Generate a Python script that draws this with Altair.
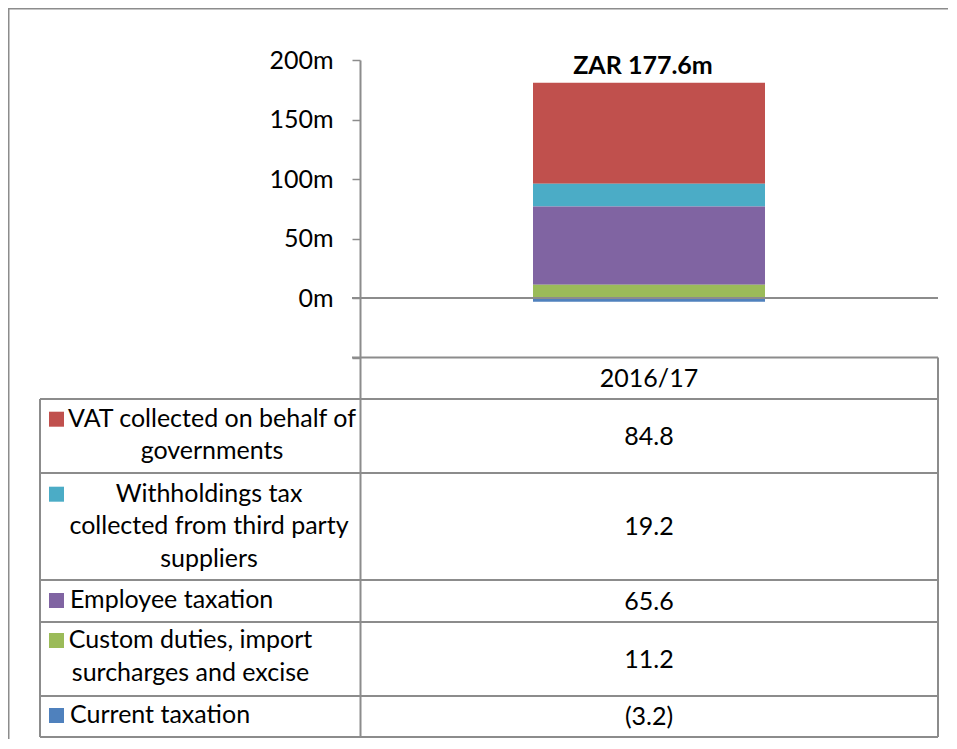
import altair as alt
import pandas as pd

# ---------------- data ----------------
year = "2016/17"
series = [
    "VAT collected on behalf of governments",
    "Withholdings tax collected from third party suppliers",
    "Employee taxation",
    "Custom duties, import surcharges and excise",
    "Current taxation",
]
label_lines = [
    ["VAT collected on behalf of", "governments"],
    ["Withholdings tax", "collected from third party", "suppliers"],
    ["Employee taxation"],
    ["Custom duties, import", "surcharges and excise"],
    ["Current taxation"],
]
values = [84.8, 19.2, 65.6, 11.2, -3.2]
colors = ["#C0504D", "#4BACC6", "#8064A2", "#9BBB59", "#4F81BD"]
axis_ticks = [-50, 0, 50, 100, 150, 200]
total = round(sum(values), 1)

# ---------------- layout (pixels, relative to plot area) ----------------
W, H = 578, 677
Y_DOMAIN = [-368.9, 200]
FONT = "Lato"
FS = 25
GRAY = "#8c8c8c"
LW = 2

# left-column label layout: (x, align) and first-line baselines
label_x = [(-148, "center"), (-151, "center"), (-290, "left"), (-169.5, "center"), (-290, "left")]
label_base = [366.7, 441.7, 548, 588, 663]
line_gap = 32.5
value_base = [384.5, 475, 549.5, 607.5, 665]
header_base = 326.5
row_lines = [339, 413, 520, 562, 636, 677]

def fmt(v):
    return f"({abs(v):.1f})" if v < 0 else f"{v:.1f}"

df = pd.DataFrame({
    "year": [year] * len(series),
    "series": series,
    "value": values,
    "stack": list(range(len(series) - 1, -1, -1)),
    "label": [fmt(v) for v in values],
})

one = pd.DataFrame({"k": [0]})

def hline(y, x1, x2, color=GRAY, width=LW):
    return alt.Chart(one).mark_rule(color=color, strokeWidth=width).encode(
        x=alt.value(x1), x2=alt.value(x2), y=alt.value(y))

def vline(x, y1, y2, color=GRAY, width=LW):
    return alt.Chart(one).mark_rule(color=color, strokeWidth=width).encode(
        x=alt.value(x), y=alt.value(y1), y2=alt.value(y2))

def text(s, x, y, align="center", bold=False):
    return alt.Chart(pd.DataFrame({"t": [s]})).mark_text(
        font=FONT, fontSize=FS, color="black", align=align, baseline="alphabetic",
        fontWeight="bold" if bold else "normal").encode(
        text="t:N", x=alt.value(x), y=alt.value(y))

xenc = alt.X("year:N", axis=None)

bars = alt.Chart(df).mark_bar(size=232).encode(
    x=xenc,
    y=alt.Y("value:Q", stack="zero",
            scale=alt.Scale(domain=Y_DOMAIN, nice=False, zero=False),
            axis=alt.Axis(values=axis_ticks, title=None, grid=False,
                          labelExpr="datum.value >= 0 ? datum.value + 'm' : ''",
                          labelFont=FONT, labelFontSize=FS, labelColor="black",
                          labelPadding=19, tickSize=8, tickColor=GRAY, tickWidth=1.5,
                          domainColor=GRAY, domainWidth=LW)),
    color=alt.Color("series:N", scale=alt.Scale(domain=series, range=colors), legend=None),
    order=alt.Order("stack:Q", sort="ascending"),
)

zero_line = alt.Chart(one).mark_rule(color=GRAY, strokeWidth=LW).encode(
    y=alt.datum(0), x=alt.value(-8), x2=alt.value(W))
header_top = alt.Chart(one).mark_rule(color=GRAY, strokeWidth=LW).encode(
    y=alt.datum(-50), x=alt.value(-8), x2=alt.value(W))

layers = [bars, zero_line, header_top]

# total label above bar
layers.append(alt.Chart(pd.DataFrame({"year": [year], "t": [f"ZAR {total}m"]})).mark_text(
    font=FONT, fontSize=FS, fontWeight="bold", color="black", baseline="alphabetic", dx=-6
).encode(x=xenc, y=alt.value(14), text="t:N"))

# table lines
for i, yl in enumerate(row_lines):
    layers.append(hline(yl, -320, W))
layers.append(vline(-320, row_lines[0], row_lines[-1]))
layers.append(vline(W, 297.5, row_lines[-1]))

# header value
layers.append(alt.Chart(pd.DataFrame({"year": [year]})).mark_text(
    font=FONT, fontSize=FS, color="black", baseline="alphabetic"
).encode(x=xenc, y=alt.value(header_base), text="year:N"))

# rows
for i, s in enumerate(series):
    b = label_base[i]
    layers.append(alt.Chart(one).mark_rect(color=colors[i]).encode(
        x=alt.value(-311), x2=alt.value(-296), y=alt.value(b - 15), y2=alt.value(b)))
    lx, al = label_x[i]
    for j, ln in enumerate(label_lines[i]):
        layers.append(text(ln, lx, b + j * line_gap, align=al))
    layers.append(alt.Chart(df.iloc[[i]]).mark_text(
        font=FONT, fontSize=FS, color="black", baseline="alphabetic"
    ).encode(x=xenc, y=alt.value(value_base[i]), text="label:N"))

# outer frame
layers.append(hline(-51.25, -352, W + 12, width=1.5))
layers.append(vline(-351.25, -52, H + 4, width=1.5))

chart = alt.layer(*layers).properties(
    width=W, height=H,
    padding={"left": 352, "top": 52, "right": 10, "bottom": 2},
    autosize=alt.AutoSizeParams(type="none"),
).configure_view(strokeWidth=0)

chart.save("out.html", embed_options={"renderer": "svg", "actions": False})
